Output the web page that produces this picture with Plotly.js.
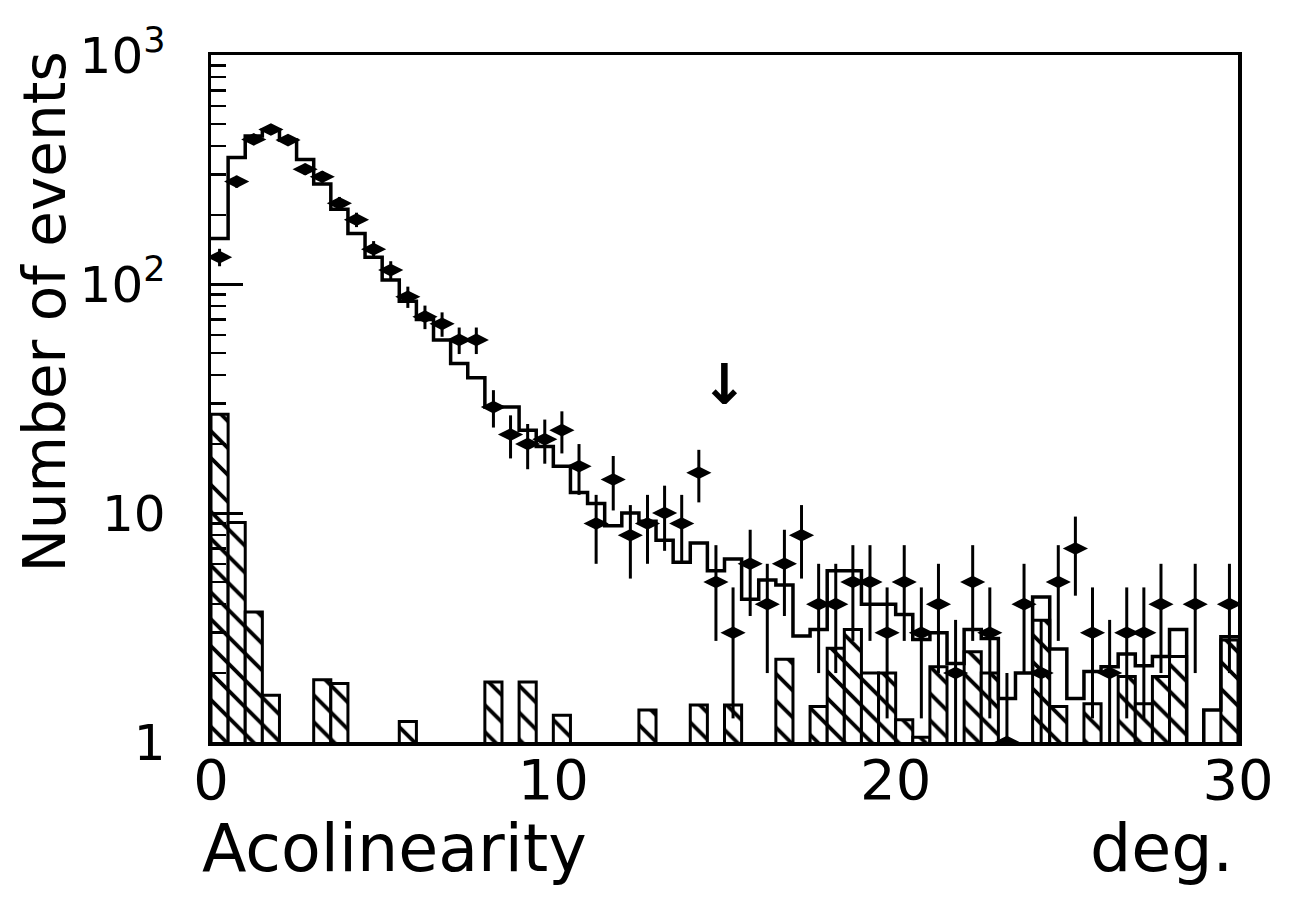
<!DOCTYPE html>
<html>
<head>
<meta charset="utf-8">
<script src="https://cdn.plot.ly/plotly-3.0.1.min.js"></script>
<style>html,body{margin:0;padding:0;background:#fff}#chart{width:1289px;height:897px}</style>
</head>
<body>
<div id="chart"></div>
<script>
// Bin centres of the acolinearity histogram (deg.), 0.5 deg bins from 0 to 30
const binCenter = [0.25,0.75,1.25,1.75,2.25,2.75,3.25,3.75,4.25,4.75,
                   5.25,5.75,6.25,6.75,7.25,7.75,8.25,8.75,9.25,9.75,
                   10.25,10.75,11.25,11.75,12.25,12.75,13.25,13.75,14.25,14.75,
                   15.25,15.75,16.25,16.75,17.25,17.75,18.25,18.75,19.25,19.75,
                   20.25,20.75,21.25,21.75,22.25,22.75,23.25,23.75,24.25,24.75,
                   25.25,25.75,26.25,26.75,27.25,27.75,28.25,28.75,29.25,29.75];
const binWidth = 0.5;

// Observed events (points with error bars)
const dataCounts = [131,280,428,473,425,317,294,225,191,142,
                    115,88,72,67,57,57,29,22,20,21,
                    23,16,9,14,8,9,10,9,15,5,
                    3,6,4,6,8,4,4,5,5,3,
                    5,3,4,2,5,3,1,4,2,5,
                    7,3,2,3,3,4,null,4,null,4];

// Expected distribution (open step histogram)
const mcExpected = [158,357,443,470,425,350,273,212,166,131,
                    104,84,70,57,45,39,29,29,23,19.5,
                    16,12.3,11,8.8,10,9.2,7.6,6.1,7.4,5.6,
                    6.3,4.2,5.1,4.85,2.9,3.1,5.6,5.6,4.0,4.0,
                    3.6,2.8,3.0,2.2,3.1,2.83,1.55,2.0,4.3,2.55,
                    1.55,2.03,2.13,2.42,2.15,2.36,3.1,0.5,1.38,2.88];

// Background (hatched histogram)
const background = [27,9.1,3.7,1.6,null,null,1.87,1.8,null,null,
                    null,1.23,null,null,null,null,1.83,null,1.83,null,
                    1.31,null,null,null,null,1.38,null,null,1.45,null,
                    1.45,null,null,2.3,null,1.43,2.57,3.1,2.0,2.0,
                    1.25,1.05,2.13,null,2.48,2.0,null,null,3.4,1.43,
                    null,1.47,null,1.93,1.47,1.93,2.36,null,null,2.79];

const yTickVals = [1,10,100,1000];
const yTickText = ['1','10','10<sup>2</sup>','10<sup>3</sup>'];
const xTickVals = [0,10,20,30];
const xTickText = ['0','10','20','30'];

// Step-line coordinates derived from the bins
const stepX = binCenter.map(c => c - binWidth/2).concat([binCenter[binCenter.length-1] + binWidth/2]);
const stepY = mcExpected.concat([mcExpected[mcExpected.length-1]]);
const errs = dataCounts.map(v => v == null ? null : Math.sqrt(v));

const FONT = 'DejaVu Sans, Liberation Sans, sans-serif';

const traces = [
  {
    type: 'bar', x: binCenter, y: background, width: binWidth,
    marker: {
      color: 'white',
      line: {color: 'black', width: 3},
      pattern: {shape: '\\', fgcolor: 'black', bgcolor: 'white', size: 19, solidity: 0.2}
    },
    hoverinfo: 'skip', showlegend: false
  },
  {
    type: 'scatter', mode: 'lines', x: stepX, y: stepY,
    line: {shape: 'hv', color: 'black', width: 3.5},
    showlegend: false, hoverinfo: 'skip'
  },
  {
    type: 'scatter', mode: 'markers', x: binCenter, y: dataCounts,
    marker: {symbol: 'diamond-wide', size: 18, color: 'black'},
    error_y: {type: 'data', array: errs, visible: true, color: 'black', thickness: 3, width: 0},
    showlegend: false
  }
];

const layout = {
  width: 1289, height: 897,
  margin: {l: 211, r: 51, t: 55, b: 155},
  paper_bgcolor: 'white', plot_bgcolor: 'white',
  showlegend: false,
  bargap: 0,
  xaxis: {
    range: [0, 30], showgrid: false, zeroline: false,
    showline: true, linecolor: 'black', linewidth: 3.5, mirror: true,
    ticks: '', tickvals: xTickVals, ticktext: xTickText,
    ticklabelstandoff: -14,
    tickfont: {family: FONT, size: 56, color: 'black'}
  },
  yaxis: {
    type: 'log', range: [0, 3], showgrid: false, zeroline: false,
    showline: true, linecolor: 'black', linewidth: 3.5, mirror: true,
    ticks: 'inside', ticklen: 32, tickwidth: 3, tickcolor: 'black',
    tickvals: yTickVals, ticktext: yTickText,
    ticklabelstandoff: 32,
    tickfont: {family: FONT, size: 50, color: 'black'},
    minor: {ticks: 'inside', ticklen: 15, tickwidth: 2.5, tickcolor: 'black', dtick: 'D1', showgrid: false}
  },
  annotations: [
    {xref: 'paper', yref: 'paper', x: -0.162, y: 0.626, text: 'Number of events', textangle: -90,
     showarrow: false, xanchor: 'center', yanchor: 'middle',
     font: {family: FONT, size: 58, color: 'black'}},
    {xref: 'paper', yref: 'paper', x: -0.011, y: -0.155, text: 'Acolinearity',
     showarrow: false, xanchor: 'left', yanchor: 'middle',
     font: {family: FONT, size: 65, color: 'black'}},
    {xref: 'paper', yref: 'paper', x: 0.997, y: -0.155, text: 'deg.',
     showarrow: false, xanchor: 'right', yanchor: 'middle',
     font: {family: FONT, size: 65, color: 'black'}},
    {xref: 'x', yref: 'y', x: 15, y: 1.559, text: '<b>↓</b>',
     showarrow: false, xanchor: 'center', yanchor: 'middle',
     font: {family: FONT, size: 56, color: 'black'}}
  ]
};

Plotly.newPlot('chart', traces, layout, {displayModeBar: false, staticPlot: true});
</script>
</body>
</html>
